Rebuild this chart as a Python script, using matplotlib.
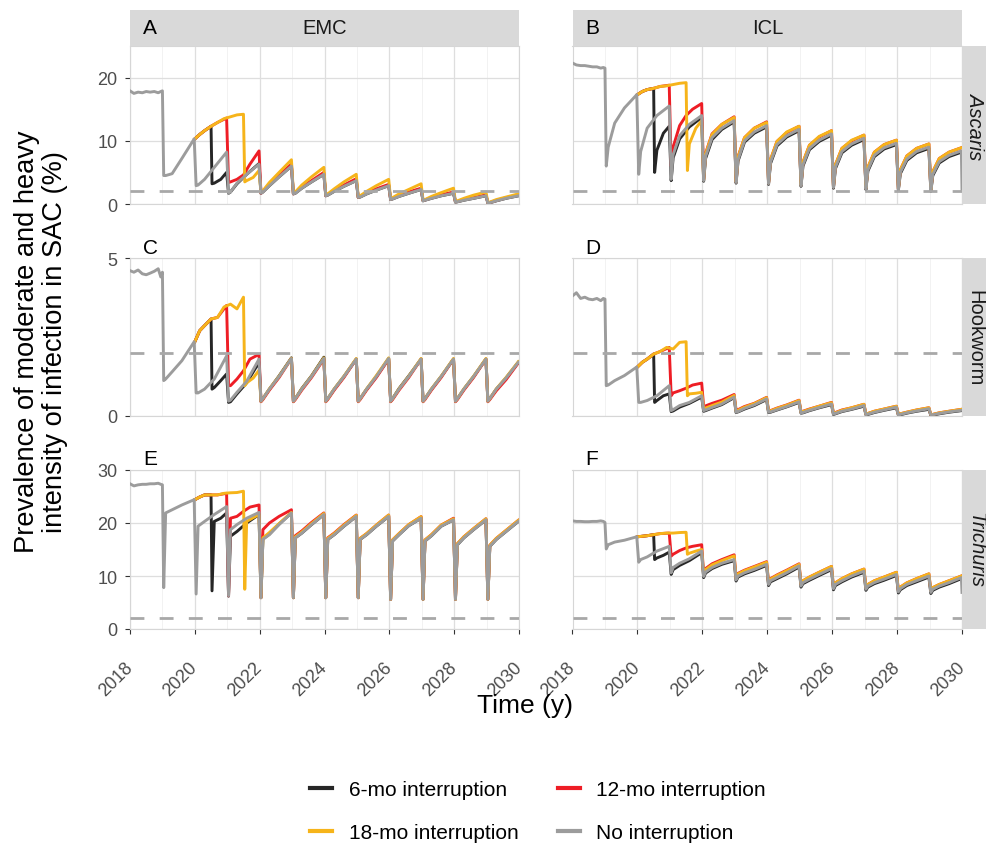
import matplotlib
matplotlib.use("Agg")
import matplotlib.pyplot as plt
from matplotlib.lines import Line2D
from matplotlib.ticker import FixedLocator

plt.rcParams['font.family'] = ['Liberation Sans', 'DejaVu Sans']

# ------------------------------------------------------------------ data
x_ticks = [2018, 2020, 2022, 2024, 2026, 2028, 2030]
x_minor = [2019, 2021, 2023, 2025, 2027, 2029]
threshold = 2.0

# time grid within each annual treatment cycle (years after treatment)
cycle_offsets = [0.04, 0.10, 0.30, 0.60, 0.98]
none_cycle_years = [2019, 2020, 2021, 2022, 2023, 2024, 2025, 2026, 2027, 2028, 2029]
int_cycle_years = [2022, 2023, 2024, 2025, 2026, 2027, 2028, 2029]

pre_t = [2018.0, 2018.12, 2018.25, 2018.38, 2018.5, 2018.62, 2018.75, 2018.87, 2018.95, 2019.0]
t_6mo = [2020.0, 2020.15, 2020.3, 2020.5, 2020.53, 2020.6, 2020.8, 2020.98,
         2021.04, 2021.1, 2021.3, 2021.6, 2021.98]
t_12mo = [2020.0, 2020.15, 2020.3, 2020.5, 2020.7, 2020.98, 2021.04, 2021.1,
          2021.3, 2021.5, 2021.7, 2021.98]
t_18mo = [2020.0, 2020.15, 2020.3, 2020.5, 2020.7, 2020.9, 2021.1, 2021.3,
          2021.5, 2021.54, 2021.6, 2021.8, 2021.98]

# ---------------- A: EMC, Ascaris
asc_emc_pre = [17.9, 17.5, 17.7, 17.6, 17.8, 17.7, 17.8, 17.6, 17.8, 17.9]
asc_emc_none = [[4.5, 4.5, 4.8, 7.2, 10.3], [2.9, 3.0, 3.9, 5.8, 8.2],
                [1.7, 1.9, 3.3, 4.7, 6.3], [1.7, 1.9, 2.9, 4.3, 6.0],
                [1.6, 1.7, 2.5, 3.5, 4.7], [1.3, 1.4, 2.0, 2.8, 3.7],
                [1.05, 1.1, 1.6, 2.2, 2.9], [0.7, 0.8, 1.2, 1.7, 2.3],
                [0.5, 0.6, 0.9, 1.3, 1.7], [0.3, 0.35, 0.6, 0.9, 1.3],
                [0.15, 0.2, 0.5, 0.9, 1.3]]
asc_emc_6mo = [10.3, 11.0, 11.6, 12.3, 3.2, 3.3, 3.9, 5.0, 1.7, 1.9, 3.2, 4.7, 6.4]
asc_emc_6mo_cyc = [[1.7, 1.9, 2.9, 4.3, 6.0], [1.6, 1.7, 2.5, 3.5, 4.7],
                   [1.3, 1.4, 2.0, 2.8, 3.7], [1.05, 1.1, 1.6, 2.2, 2.9],
                   [0.7, 0.8, 1.2, 1.7, 2.3], [0.5, 0.6, 0.9, 1.3, 1.7],
                   [0.3, 0.35, 0.6, 0.9, 1.3], [0.15, 0.2, 0.5, 0.9, 1.3]]
asc_emc_12mo = [10.3, 11.0, 11.6, 12.3, 12.9, 13.6, 3.4, 3.5, 3.9, 4.6, 6.3, 8.4]
asc_emc_12mo_cyc = [[1.7, 2.0, 3.1, 4.6, 6.3], [1.6, 1.8, 2.7, 3.7, 5.0],
                    [1.3, 1.5, 2.2, 3.0, 4.0], [1.05, 1.2, 1.8, 2.4, 3.1],
                    [0.75, 0.9, 1.4, 1.9, 2.5], [0.55, 0.65, 1.0, 1.45, 1.9],
                    [0.35, 0.4, 0.7, 1.0, 1.45], [0.2, 0.25, 0.55, 1.0, 1.4]]
asc_emc_18mo = [10.3, 11.0, 11.6, 12.3, 12.9, 13.5, 13.8, 14.1, 14.2, 3.5, 3.7, 4.2, 5.3]
asc_emc_18mo_cyc = [[1.8, 2.1, 3.4, 5.0, 7.0], [1.7, 1.9, 3.0, 4.3, 5.8],
                    [1.4, 1.6, 2.4, 3.5, 4.7], [1.1, 1.3, 2.0, 2.9, 3.9],
                    [0.8, 1.0, 1.6, 2.3, 3.2], [0.6, 0.7, 1.2, 1.8, 2.5],
                    [0.4, 0.5, 0.9, 1.4, 1.9], [0.25, 0.3, 0.7, 1.1, 1.6]]

# ---------------- B: ICL, Ascaris
asc_icl_pre = [22.3, 22.0, 21.9, 21.9, 21.8, 21.7, 21.7, 21.5, 21.6, 21.5]
asc_icl_none = [[6.0, 9.0, 12.8, 15.2, 17.3], [4.7, 8.3, 12.0, 14.0, 15.5],
                [3.9, 7.8, 10.8, 12.6, 14.0], [3.7, 7.5, 10.5, 12.0, 13.2],
                [3.4, 7.0, 10.0, 11.4, 12.4], [3.2, 6.6, 9.4, 10.8, 11.8],
                [2.9, 6.2, 8.8, 10.1, 11.1], [2.6, 5.8, 8.3, 9.5, 10.4],
                [2.4, 5.4, 7.7, 8.9, 9.6], [2.3, 5.0, 7.1, 8.3, 9.0],
                [2.1, 4.7, 6.7, 7.7, 8.4]]
asc_icl_end = 2.3
asc_icl_6mo = [17.3, 17.8, 18.1, 18.3, 5.0, 8.5, 11.2, 12.3, 3.7, 7.3, 10.3, 12.2, 13.7]
asc_icl_6mo_cyc = [[3.6, 7.2, 10.2, 11.8, 13.0], [3.3, 6.8, 9.8, 11.2, 12.2],
                   [3.1, 6.4, 9.2, 10.6, 11.6], [2.8, 6.0, 8.6, 9.9, 10.9],
                   [2.5, 5.6, 8.1, 9.3, 10.2], [2.3, 5.2, 7.5, 8.7, 9.4],
                   [2.2, 4.8, 6.9, 8.1, 8.8], [2.0, 4.5, 6.5, 7.5, 8.2]]
asc_icl_12mo = [17.3, 17.8, 18.1, 18.3, 18.6, 18.8, 6.0, 9.0, 12.4, 14.0, 15.0, 15.9]
asc_icl_12mo_cyc = [[3.9, 8.0, 11.1, 12.6, 13.8], [3.5, 7.5, 10.5, 12.0, 13.0],
                    [3.3, 7.0, 9.9, 11.3, 12.3], [3.0, 6.6, 9.3, 10.6, 11.6],
                    [2.7, 6.2, 8.8, 10.0, 10.9], [2.5, 5.8, 8.2, 9.4, 10.1],
                    [2.4, 5.4, 7.6, 8.8, 9.5], [2.2, 5.1, 7.2, 8.2, 8.9]]
asc_icl_18mo = [17.3, 17.8, 18.1, 18.3, 18.6, 18.7, 18.9, 19.1, 19.2, 5.3, 9.5, 12.0, 13.2]
asc_icl_18mo_cyc = [[3.8, 7.9, 11.0, 12.6, 13.7], [3.5, 7.4, 10.5, 12.0, 12.9],
                    [3.3, 7.0, 9.9, 11.4, 12.3], [3.0, 6.6, 9.3, 10.7, 11.6],
                    [2.7, 6.2, 8.8, 10.1, 10.9], [2.5, 5.8, 8.2, 9.4, 10.1],
                    [2.4, 5.4, 7.6, 8.8, 9.5], [2.2, 5.1, 7.2, 8.2, 8.9]]

# ---------------- C: EMC, Hookworm
hk_emc_pre = [4.6, 4.55, 4.62, 4.5, 4.47, 4.52, 4.58, 4.66, 4.4, 4.55]
hk_emc_none = [[1.12, 1.17, 1.4, 1.75, 2.35], [0.73, 0.73, 0.85, 1.17, 1.9],
               [0.47, 0.5, 0.75, 1.1, 1.8], [0.47, 0.55, 0.85, 1.25, 1.82],
               [0.47, 0.55, 0.85, 1.25, 1.82], [0.47, 0.55, 0.85, 1.25, 1.8],
               [0.47, 0.55, 0.85, 1.25, 1.82], [0.47, 0.55, 0.85, 1.25, 1.8],
               [0.47, 0.55, 0.85, 1.25, 1.8], [0.47, 0.55, 0.85, 1.25, 1.8],
               [0.47, 0.55, 0.85, 1.2, 1.7]]
hk_emc_6mo = [2.35, 2.7, 2.86, 3.07, 0.85, 0.9, 1.12, 1.33, 0.43, 0.45, 0.7, 1.05, 1.7]
hk_emc_6mo_cyc = [[0.47, 0.55, 0.85, 1.27, 1.84], [0.47, 0.55, 0.87, 1.27, 1.86],
                  [0.47, 0.55, 0.85, 1.25, 1.8], [0.47, 0.55, 0.85, 1.25, 1.82],
                  [0.47, 0.55, 0.87, 1.27, 1.8], [0.47, 0.55, 0.85, 1.25, 1.8],
                  [0.47, 0.55, 0.85, 1.25, 1.8], [0.47, 0.55, 0.85, 1.2, 1.7]]
hk_emc_12mo = [2.35, 2.7, 2.86, 3.07, 3.12, 3.5, 0.96, 0.96, 1.17, 1.43, 1.8, 1.95]
hk_emc_12mo_cyc = [[0.45, 0.52, 0.82, 1.22, 1.82], [0.45, 0.52, 0.82, 1.22, 1.8],
                   [0.45, 0.52, 0.82, 1.22, 1.8], [0.45, 0.52, 0.82, 1.22, 1.8],
                   [0.45, 0.52, 0.82, 1.22, 1.8], [0.45, 0.52, 0.82, 1.22, 1.8],
                   [0.45, 0.52, 0.82, 1.22, 1.8], [0.45, 0.52, 0.8, 1.15, 1.68]]
hk_emc_18mo = [2.35, 2.7, 2.86, 3.07, 3.12, 3.45, 3.54, 3.39, 3.76, 0.96, 1.05, 1.2, 1.45]
hk_emc_18mo_cyc = [[0.47, 0.55, 0.86, 1.26, 1.83], [0.47, 0.55, 0.86, 1.26, 1.84],
                   [0.47, 0.55, 0.86, 1.26, 1.82], [0.47, 0.55, 0.86, 1.28, 1.84],
                   [0.47, 0.55, 0.86, 1.26, 1.82], [0.47, 0.55, 0.86, 1.26, 1.82],
                   [0.47, 0.55, 0.86, 1.26, 1.82], [0.47, 0.55, 0.86, 1.22, 1.72]]

# ---------------- D: ICL, Hookworm
hk_icl_pre = [3.8, 3.9, 3.72, 3.76, 3.7, 3.68, 3.72, 3.65, 3.72, 3.7]
hk_icl_none = [[0.96, 0.98, 1.12, 1.28, 1.55], [0.43, 0.43, 0.49, 0.64, 0.96],
               [0.17, 0.2, 0.33, 0.43, 0.64], [0.17, 0.19, 0.27, 0.38, 0.6],
               [0.12, 0.14, 0.24, 0.35, 0.54], [0.12, 0.13, 0.2, 0.3, 0.45],
               [0.1, 0.11, 0.18, 0.27, 0.38], [0.06, 0.08, 0.15, 0.22, 0.33],
               [0.04, 0.06, 0.12, 0.19, 0.28], [0.03, 0.05, 0.1, 0.16, 0.23],
               [0.03, 0.04, 0.08, 0.13, 0.18]]
hk_icl_6mo = [1.55, 1.7, 1.8, 1.96, 0.43, 0.49, 0.64, 0.7, 0.14, 0.16, 0.28, 0.4, 0.6]
hk_icl_6mo_cyc = [[0.15, 0.17, 0.25, 0.36, 0.58], [0.11, 0.13, 0.22, 0.33, 0.52],
                  [0.11, 0.12, 0.19, 0.29, 0.43], [0.09, 0.1, 0.17, 0.26, 0.36],
                  [0.05, 0.07, 0.14, 0.21, 0.31], [0.04, 0.05, 0.11, 0.18, 0.26],
                  [0.03, 0.04, 0.09, 0.15, 0.21], [0.02, 0.03, 0.07, 0.12, 0.17]]
hk_icl_12mo = [1.55, 1.7, 1.8, 1.96, 2.04, 2.17, 0.64, 0.73, 0.8, 0.88, 0.98, 1.04]
hk_icl_12mo_cyc = [[0.3, 0.32, 0.4, 0.5, 0.68], [0.18, 0.2, 0.3, 0.4, 0.59],
                   [0.16, 0.17, 0.25, 0.35, 0.5], [0.13, 0.15, 0.22, 0.31, 0.43],
                   [0.09, 0.11, 0.19, 0.26, 0.37], [0.06, 0.08, 0.15, 0.22, 0.31],
                   [0.05, 0.07, 0.12, 0.19, 0.26], [0.04, 0.05, 0.1, 0.15, 0.21]]
hk_icl_18mo = [1.55, 1.7, 1.8, 1.96, 2.04, 2.17, 2.12, 2.33, 2.35, 0.64, 0.7, 0.72, 0.75]
hk_icl_18mo_cyc = [[0.22, 0.25, 0.33, 0.44, 0.65], [0.16, 0.18, 0.28, 0.39, 0.58],
                   [0.15, 0.16, 0.24, 0.34, 0.49], [0.12, 0.14, 0.21, 0.31, 0.42],
                   [0.08, 0.1, 0.18, 0.26, 0.37], [0.06, 0.08, 0.15, 0.22, 0.31],
                   [0.05, 0.07, 0.12, 0.19, 0.26], [0.04, 0.05, 0.1, 0.15, 0.21]]

# ---------------- E: EMC, Trichuris
tr_emc_pre = [27.4, 27.0, 27.2, 27.3, 27.3, 27.4, 27.4, 27.5, 27.3, 27.2]
tr_emc_none = [[7.8, 21.9, 22.5, 23.4, 24.4], [6.6, 19.4, 20.3, 21.6, 23.1],
               [6.25, 18.75, 19.7, 20.9, 22.0], [5.9, 16.9, 17.8, 19.7, 21.9],
               [5.9, 17.2, 18.1, 19.7, 21.6], [5.9, 16.9, 17.8, 19.4, 21.25],
               [5.9, 16.9, 17.8, 19.4, 21.25], [5.6, 16.6, 17.8, 19.5, 20.9],
               [5.6, 16.6, 17.6, 19.4, 20.6], [5.6, 15.9, 17.2, 18.75, 20.6],
               [5.6, 15.6, 16.9, 18.4, 20.3]]
tr_emc_6mo = [24.4, 24.9, 25.3, 25.3, 7.2, 20.3, 20.9, 21.9, 6.2, 17.5, 18.4, 20.0, 21.6]
tr_emc_6mo_cyc = [[5.9, 17.0, 17.9, 19.8, 21.9], [5.9, 17.2, 18.1, 19.7, 21.6],
                  [5.9, 16.9, 17.8, 19.4, 21.25], [5.9, 16.9, 17.8, 19.4, 21.25],
                  [5.6, 16.6, 17.8, 19.5, 20.9], [5.6, 16.6, 17.6, 19.4, 20.6],
                  [5.6, 15.9, 17.2, 18.75, 20.6], [5.6, 15.6, 16.9, 18.4, 20.3]]
tr_emc_12mo = [24.4, 24.9, 25.3, 25.3, 25.3, 25.6, 6.25, 20.9, 21.25, 22.2, 23.0, 23.4]
tr_emc_12mo_cyc = [[5.9, 18.75, 20.0, 21.25, 22.5], [5.9, 17.6, 18.5, 20.1, 21.9],
                   [5.9, 17.2, 18.1, 19.7, 21.5], [5.9, 17.1, 18.0, 19.6, 21.5],
                   [5.6, 16.8, 18.0, 19.7, 21.2], [5.6, 16.8, 17.8, 19.6, 20.9],
                   [5.6, 16.1, 17.4, 18.95, 20.8], [5.6, 15.8, 17.1, 18.6, 20.5]]
tr_emc_18mo = [24.4, 24.9, 25.3, 25.3, 25.3, 25.6, 25.7, 25.75, 26.0, 7.5, 20.3, 21.0, 21.6]
tr_emc_18mo_cyc = [[5.9, 17.2, 18.2, 19.9, 22.0], [5.9, 17.4, 18.3, 19.9, 21.8],
                   [5.9, 17.1, 18.0, 19.6, 21.45], [5.9, 17.1, 18.0, 19.6, 21.5],
                   [5.6, 16.8, 18.0, 19.7, 21.2], [5.6, 16.8, 17.8, 19.6, 20.8],
                   [5.6, 16.1, 17.4, 18.95, 20.8], [5.6, 15.8, 17.1, 18.6, 20.5]]

# ---------------- F: ICL, Trichuris
tr_icl_pre = [20.4, 20.3, 20.3, 20.25, 20.25, 20.3, 20.3, 20.4, 20.3, 20.1]
tr_icl_none = [[15.1, 15.9, 16.4, 16.75, 17.4], [12.6, 13.1, 13.6, 14.7, 15.6],
               [10.6, 11.6, 12.4, 13.25, 14.7], [9.9, 10.75, 11.6, 12.4, 13.1],
               [9.25, 10.0, 10.6, 11.25, 12.2], [8.4, 9.1, 9.7, 10.6, 11.9],
               [8.1, 8.75, 9.4, 10.3, 11.4], [7.6, 8.4, 9.1, 10.0, 10.9],
               [7.5, 8.1, 8.75, 9.4, 10.3], [7.0, 7.6, 8.4, 9.1, 10.0],
               [6.9, 7.5, 8.1, 8.75, 9.7]]
tr_icl_end = 6.9
tr_icl_6mo = [17.4, 17.5, 17.6, 17.8, 13.1, 13.4, 13.9, 14.5, 10.3, 11.2, 12.0, 12.9, 14.4]
tr_icl_6mo_cyc = [[9.7, 10.55, 11.4, 12.2, 12.9], [9.05, 9.8, 10.4, 11.05, 12.0],
                  [8.2, 8.9, 9.5, 10.4, 11.7], [7.9, 8.55, 9.2, 10.1, 11.2],
                  [7.4, 8.2, 8.9, 9.8, 10.7], [7.3, 7.9, 8.55, 9.2, 10.1],
                  [6.8, 7.4, 8.2, 8.9, 9.8], [6.7, 7.3, 7.9, 8.55, 9.5]]
tr_icl_12mo = [17.4, 17.5, 17.6, 17.8, 18.0, 18.1, 13.75, 14.1, 14.8, 15.3, 15.6, 15.9]
tr_icl_12mo_cyc = [[10.3, 11.4, 12.3, 13.1, 14.0], [9.6, 10.5, 11.1, 11.8, 12.7],
                   [8.8, 9.5, 10.2, 11.1, 12.3], [8.4, 9.1, 9.8, 10.7, 11.8],
                   [7.9, 8.7, 9.5, 10.4, 11.3], [7.8, 8.4, 9.1, 9.8, 10.7],
                   [7.3, 7.9, 8.7, 9.5, 10.4], [7.2, 7.8, 8.4, 9.1, 10.0]]
tr_icl_18mo = [17.4, 17.5, 17.6, 17.8, 18.0, 18.1, 18.1, 18.2, 18.25, 14.1, 14.3, 14.7, 15.0]
tr_icl_18mo_cyc = [[10.2, 11.2, 12.1, 12.9, 13.8], [9.5, 10.4, 11.0, 11.7, 12.6],
                   [8.7, 9.4, 10.1, 11.0, 12.2], [8.4, 9.1, 9.8, 10.7, 11.8],
                   [7.9, 8.7, 9.5, 10.4, 11.3], [7.8, 8.4, 9.1, 9.8, 10.7],
                   [7.3, 7.9, 8.7, 9.5, 10.4], [7.2, 7.8, 8.4, 9.1, 10.0]]

col_labels = ["EMC", "ICL"]
row_labels = ["Ascaris", "Hookworm", "Trichuris"]
row_italic = [True, False, True]
panel_letters = [["A", "B"], ["C", "D"], ["E", "F"]]
row_ylim = [25, 5, 30]
row_yticks = [[0, 10, 20], [0, 5], [0, 10, 20, 30]]

series_labels = ["6-mo interruption", "12-mo interruption", "18-mo interruption", "No interruption"]
series_colors = ["#262626", "#ee1d25", "#f6b41a", "#9c9c9c"]

panel_data = [
    [(asc_emc_pre, asc_emc_none, None, asc_emc_6mo, asc_emc_6mo_cyc, asc_emc_12mo, asc_emc_12mo_cyc, asc_emc_18mo, asc_emc_18mo_cyc),
     (asc_icl_pre, asc_icl_none, asc_icl_end, asc_icl_6mo, asc_icl_6mo_cyc, asc_icl_12mo, asc_icl_12mo_cyc, asc_icl_18mo, asc_icl_18mo_cyc)],
    [(hk_emc_pre, hk_emc_none, None, hk_emc_6mo, hk_emc_6mo_cyc, hk_emc_12mo, hk_emc_12mo_cyc, hk_emc_18mo, hk_emc_18mo_cyc),
     (hk_icl_pre, hk_icl_none, None, hk_icl_6mo, hk_icl_6mo_cyc, hk_icl_12mo, hk_icl_12mo_cyc, hk_icl_18mo, hk_icl_18mo_cyc)],
    [(tr_emc_pre, tr_emc_none, None, tr_emc_6mo, tr_emc_6mo_cyc, tr_emc_12mo, tr_emc_12mo_cyc, tr_emc_18mo, tr_emc_18mo_cyc),
     (tr_icl_pre, tr_icl_none, tr_icl_end, tr_icl_6mo, tr_icl_6mo_cyc, tr_icl_12mo, tr_icl_12mo_cyc, tr_icl_18mo, tr_icl_18mo_cyc)],
]


def cyc_series(years, cycles):
    t, v = [], []
    for y, vals in zip(years, cycles):
        for o, val in zip(cycle_offsets, vals):
            t.append(y + o)
            v.append(val)
    return t, v


# ------------------------------------------------------------------ layout
W, H = 986, 845
fig = plt.figure(figsize=(W / 100, H / 100), dpi=100)


def rect(x0, y0, x1, y1):
    return [x0 / W, 1 - y1 / H, (x1 - x0) / W, (y1 - y0) / H]


col_x = [(130, 519), (572.5, 962)]
row_y = [(47, 205), (259, 417), (471, 630)]
strip_bg = "#d9d9d9"
lw = 2.1

for r in range(3):
    for c in range(2):
        ax = fig.add_axes(rect(col_x[c][0], row_y[r][0], col_x[c][1], row_y[r][1]))
        pre, none_cyc, end_val, v6, c6, v12, c12, v18, c18 = panel_data[r][c]
        # interruption scenarios
        for tt, vv, cc, col in [(t_6mo, v6, c6, series_colors[0]),
                                (t_12mo, v12, c12, series_colors[1]),
                                (t_18mo, v18, c18, series_colors[2])]:
            ct, cv = cyc_series(int_cycle_years, cc)
            ax.plot(tt + ct, vv + cv, color=col, lw=lw, solid_joinstyle='round', zorder=3)
        gt, gv = cyc_series(none_cycle_years, none_cyc)
        gt = pre_t + gt
        gv = pre + gv
        if end_val is not None:
            gt = gt + [2030.0]
            gv = gv + [end_val]
        ax.plot(gt, gv, color=series_colors[3], lw=lw, solid_joinstyle='round', zorder=4)
        ax.axhline(threshold, color="#a8a8a8", lw=2.0, linestyle=(0, (5, 5.5)), zorder=5)

        ax.set_xlim(2018, 2030)
        ax.set_ylim(0, row_ylim[r])
        ax.xaxis.set_major_locator(FixedLocator(x_ticks))
        ax.xaxis.set_minor_locator(FixedLocator(x_minor))
        ax.yaxis.set_major_locator(FixedLocator(row_yticks[r]))
        ax.grid(True, which='major', color="#dedede", lw=0.9, zorder=0)
        ax.grid(True, which='minor', axis='x', color="#f0f0f0", lw=0.6, zorder=0)
        ax.set_axisbelow(True)
        for s in ax.spines.values():
            s.set_color("#d6d6d6")
            s.set_linewidth(0.8)
        ax.tick_params(which='minor', length=0)
        ax.tick_params(axis='both', which='major', colors="#333333", labelcolor="#4d4d4d",
                       labelsize=13, length=3.5, width=0.8)
        if c == 1:
            ax.tick_params(axis='y', length=0, labelleft=False)
        else:
            ax.tick_params(axis='y', pad=5.5)
        if r < 2:
            ax.tick_params(axis='x', length=0, labelbottom=False)
        else:
            ax.tick_params(axis='x', pad=22)
            for lab in ax.get_xticklabels():
                lab.set_rotation(45)
                lab.set_ha('right')
                lab.set_va('center')
                lab.set_rotation_mode('anchor')

        # panel letter for lower rows
        if r > 0:
            fig.text((col_x[c][0] + 13) / W, 1 - (row_y[r][0] - 11) / H, panel_letters[r][c],
                     fontsize=15, ha='left', va='center', color='black')

        # right strips
        if c == 1:
            sax = fig.add_axes(rect(962, row_y[r][0], 986, row_y[r][1]))
            sax.set_facecolor(strip_bg)
            sax.set_xticks([]); sax.set_yticks([])
            for s in sax.spines.values():
                s.set_visible(False)
            sax.text(0.55, 0.5, row_labels[r], rotation=-90, ha='center', va='center',
                     fontsize=14.5, color='#1a1a1a',
                     style='italic' if row_italic[r] else 'normal', transform=sax.transAxes)

# top strips
for c in range(2):
    sax = fig.add_axes(rect(col_x[c][0], 11, col_x[c][1], 47))
    sax.set_facecolor(strip_bg)
    sax.set_xticks([]); sax.set_yticks([])
    for s in sax.spines.values():
        s.set_visible(False)
    sax.text(0.5, 0.5, col_labels[c], ha='center', va='center', fontsize=14.5,
             color='#1a1a1a', transform=sax.transAxes)
    sax.text(13 / (col_x[c][1] - col_x[c][0]), 0.5, panel_letters[0][c], ha='left',
             va='center', fontsize=15, color='black', transform=sax.transAxes)

# axis titles
fig.text(525 / W, 1 - 706 / H, "Time (y)", ha='center', va='center', fontsize=19)
fig.text(41 / W, 1 - 342 / H,
         "Prevalence of moderate and heavy\nintensity of infection in SAC (%)",
         ha='center', va='center', rotation=90, fontsize=19.6, multialignment='center',
         linespacing=1.1)

# legend
handles = [Line2D([0], [0], color=series_colors[i], lw=3) for i in range(4)]
order = [0, 2, 1, 3]
fig.legend([handles[i] for i in order], [series_labels[i] for i in order],
           ncol=2, loc='center', bbox_to_anchor=(538 / W, 1 - 812 / H),
           frameon=False, fontsize=15, handlelength=1.05, handletextpad=0.8,
           columnspacing=1.9, labelspacing=1.15)

fig.savefig("out.png", dpi=100)
